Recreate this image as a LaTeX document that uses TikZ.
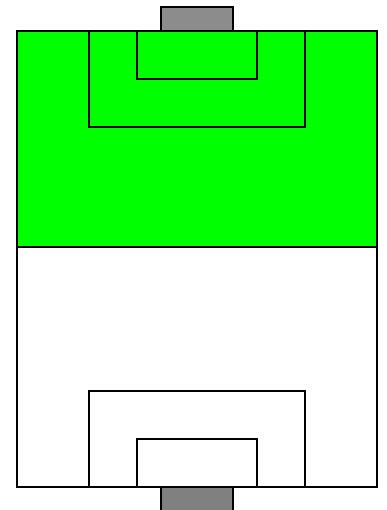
\documentclass[tikz,border=0pt]{standalone}
\usepackage{tikz}

\definecolor{pitchgreen}{RGB}{0,255,0}
\definecolor{goalgray}{RGB}{140,140,140}

\begin{document}
\begin{tikzpicture}[x=1pt,y=-1pt,line width=1.6pt]
        \clip (0,0) rectangle (387,510);
        \fill[white] (0,0) rectangle (387,510);
        % goals
        \draw[fill=goalgray] (161, 7) rectangle (233, 31);
        \draw[fill=gray] (161, 487) rectangle (233, 520);
        % pitch
        \draw[fill=pitchgreen] (17, 31) rectangle (377, 247);
        \draw (17, 247) rectangle (377, 487);
        % top area
        \draw (89, 31) rectangle (305, 127);
        \draw (137, 31) rectangle (257, 79);
        % bottom area
        \draw (89, 391) rectangle (305, 487);
        \draw (137, 439) rectangle (257, 487);
      \end{tikzpicture}
\end{document}
